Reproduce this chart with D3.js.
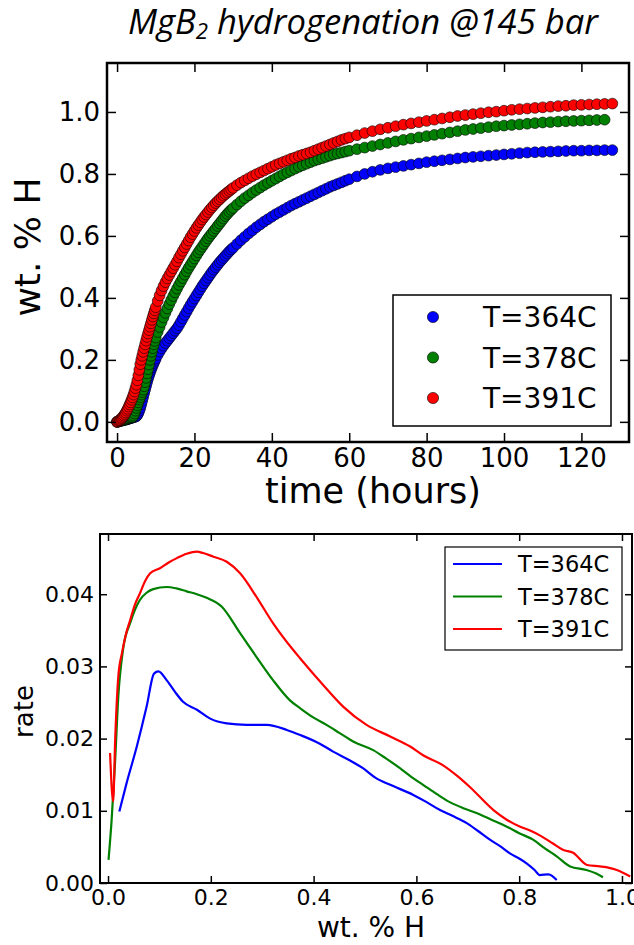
<!DOCTYPE html>
<html><head><meta charset="utf-8">
<script src="https://cdn.jsdelivr.net/npm/d3@7"></script>
<style>
html,body{margin:0;padding:0;background:#fff;}
svg{display:block;}
text{font-family:"DejaVu Sans",sans-serif;fill:#000;}
</style></head>
<body>
<svg id="chart" width="634" height="945"></svg>
<script>
// ---------- DATA ----------
const seriesNames = ["T=364C", "T=378C", "T=391C"];
const seriesColors = ["#0000ff", "#008000", "#ff0000"];

// top panel: sampling times (hours)
const hours = [0,0.25,0.5,0.75,1,1.25,1.5,1.75,2,2.25,2.5,2.75,3,3.25,3.5,3.75,4,4.25,4.5,4.75,
5,5.25,5.5,5.75,6,6.25,6.5,6.75,7,7.25,7.5,7.75,8,8.25,8.5,8.75,9,9.25,9.5,9.75,10,
10.5,11,11.5,12,12.5,13,13.5,14,14.5,15,15.5,16,16.5,17,17.5,18,18.5,19,19.5,20,
20.5,21,21.5,22,22.5,23,23.5,24,24.5,25,25.5,26,26.5,27,27.5,28,28.5,29,29.5,30,
31,32,33,34,35,36,37,38,39,40,41,42,43,44,45,46,47,48,49,50,
51,52,53,54,55,56,57,58,59,60,
62,64,66,68,70,72,74,76,78,80,82,84,86,88,90,92,94,96,98,100,
102,104,106,108,110,112,114,116,118,120,122,124,126,128];

// wt.% H at those times
const w364 = [0.000,0.001,0.002,0.003,0.004,0.004,0.005,0.006,0.007,0.007,
0.008,0.009,0.010,0.011,0.012,0.013,0.014,0.015,0.016,0.017,
0.018,0.022,0.028,0.036,0.045,0.056,0.068,0.080,0.092,0.104,
0.116,0.128,0.139,0.149,0.158,0.167,0.175,0.183,0.190,0.197,
0.204,
0.216,0.227,0.237,0.246,0.254,0.262,0.270,0.278,0.286,0.294,
0.302,0.312,0.323,0.334,0.345,0.356,0.367,0.378,0.388,0.398,
0.408,0.418,0.428,0.438,0.447,0.456,0.465,0.474,0.483,0.491,
0.499,0.507,0.515,0.522,0.529,0.536,0.543,0.550,0.556,0.562,
0.574,0.586,0.597,0.608,0.618,0.628,0.637,0.646,0.654,0.662,
0.670,0.677,0.684,0.691,0.698,0.704,0.710,0.716,0.722,0.728,
0.734,0.740,0.746,0.752,0.758,0.763,0.768,0.773,0.778,0.783,
0.792,0.800,0.807,0.813,0.818,0.822,0.826,0.830,0.834,0.838,
0.841,0.844,0.847,0.850,0.853,0.855,0.857,0.859,0.861,0.863,
0.865,0.867,0.869,0.870,0.871,0.872,0.873,0.874,0.875,0.875,
0.876,0.876,0.877,0.877];
const w378 = [0.000,0.001,0.002,0.003,0.004,0.005,0.006,0.007,0.008,0.009,
0.010,0.011,0.012,0.013,0.014,0.015,0.016,0.020,0.027,0.036,
0.045,0.054,0.063,0.072,0.080,0.088,0.096,0.104,0.115,0.128,
0.142,0.156,0.170,0.185,0.200,0.213,0.226,0.238,0.250,0.261,
0.272,
0.290,0.306,0.322,0.337,0.352,0.366,0.380,0.393,0.406,0.418,
0.430,0.442,0.453,0.464,0.475,0.486,0.497,0.507,0.517,0.527,
0.537,0.547,0.556,0.565,0.574,0.583,0.592,0.600,0.608,0.616,
0.624,0.632,0.640,0.648,0.656,0.664,0.671,0.678,0.684,0.690,
0.701,0.712,0.722,0.731,0.740,0.748,0.756,0.764,0.771,0.778,
0.785,0.792,0.799,0.805,0.811,0.817,0.823,0.828,0.833,0.838,
0.843,0.847,0.851,0.855,0.859,0.863,0.866,0.869,0.872,0.875,
0.880,0.885,0.890,0.895,0.900,0.905,0.910,0.914,0.918,0.922,
0.926,0.930,0.934,0.938,0.942,0.945,0.948,0.951,0.954,0.956,
0.958,0.960,0.962,0.964,0.966,0.967,0.969,0.970,0.971,0.972,
0.973,0.974,0.975];
const w391 = [0.000,0.002,0.004,0.006,0.009,0.012,0.016,0.020,0.025,0.030,
0.036,0.042,0.049,0.056,0.063,0.071,0.079,0.088,0.098,0.109,
0.120,0.134,0.150,0.168,0.186,0.200,0.213,0.226,0.238,0.250,
0.262,0.274,0.285,0.296,0.307,0.318,0.329,0.340,0.350,0.360,
0.370,
0.390,0.408,0.424,0.438,0.451,0.463,0.474,0.485,0.496,0.507,
0.518,0.530,0.541,0.552,0.563,0.574,0.585,0.596,0.606,0.616,
0.626,0.635,0.644,0.653,0.661,0.669,0.677,0.685,0.692,0.699,
0.706,0.712,0.718,0.724,0.730,0.735,0.740,0.745,0.750,0.755,
0.764,0.772,0.779,0.786,0.793,0.799,0.805,0.811,0.817,0.823,
0.829,0.834,0.839,0.844,0.849,0.853,0.858,0.862,0.866,0.870,
0.875,0.880,0.885,0.890,0.895,0.900,0.905,0.910,0.914,0.918,
0.925,0.932,0.938,0.944,0.949,0.954,0.959,0.963,0.967,0.971,
0.975,0.979,0.983,0.987,0.990,0.993,0.996,0.999,1.001,1.004,
1.007,1.009,1.011,1.013,1.015,1.017,1.019,1.020,1.022,1.023,
1.024,1.025,1.026,1.027];

// bottom panel: [wt.% H, rate]
const rate364 = [[0.022,0.0099],[0.036,0.0138],[0.056,0.0189],[0.075,0.0244],[0.0895,0.0290],[0.098,0.0293],
[0.114,0.0281],[0.130,0.0265],[0.146,0.0251],[0.173,0.0240],[0.198,0.0228],[0.231,0.0221],[0.270,0.0219],
[0.309,0.0219],[0.348,0.0212],[0.374,0.0205],[0.412,0.0193],[0.438,0.0182],[0.470,0.0170],[0.496,0.0159],
[0.520,0.0146],[0.549,0.0136],[0.594,0.0122],[0.620,0.0112],[0.646,0.0101],[0.670,0.0093],[0.698,0.0083],
[0.720,0.0072],[0.743,0.0060],[0.765,0.0050],[0.782,0.0041],[0.800,0.0034],[0.815,0.0027],[0.830,0.0018],
[0.840,0.0011],[0.857,0.0012],[0.873,0.0004]];
const rate378 = [[0.001,0.0032],[0.007,0.0087],[0.0136,0.0166],[0.020,0.0258],[0.030,0.0327],[0.043,0.0360],
[0.062,0.0392],[0.075,0.0402],[0.088,0.0407],[0.114,0.0410],[0.133,0.0408],[0.153,0.0404],[0.173,0.0400],
[0.192,0.0395],[0.221,0.0383],[0.257,0.0346],[0.289,0.0313],[0.321,0.0281],[0.354,0.0253],[0.374,0.0242],
[0.400,0.0229],[0.425,0.0219],[0.450,0.0208],[0.477,0.0196],[0.516,0.0184],[0.540,0.0173],[0.568,0.0159],
[0.590,0.0147],[0.613,0.0136],[0.640,0.0123],[0.665,0.0112],[0.690,0.0104],[0.717,0.0097],[0.745,0.0088],
[0.776,0.0078],[0.800,0.0069],[0.827,0.0060],[0.850,0.0048],[0.873,0.0037],[0.899,0.0023],[0.931,0.0018],
[0.950,0.0013],[0.963,0.0008]];
const rate391 = [[0.004,0.0180],[0.010,0.0113],[0.014,0.0200],[0.020,0.0286],[0.027,0.0318],[0.035,0.0345],
[0.043,0.0364],[0.052,0.0385],[0.062,0.0401],[0.072,0.0418],[0.082,0.0429],[0.101,0.0436],[0.118,0.0444],
[0.134,0.0450],[0.153,0.0456],[0.173,0.0459],[0.185,0.0457],[0.205,0.0452],[0.231,0.0445],[0.257,0.0429],
[0.290,0.0395],[0.321,0.0360],[0.360,0.0323],[0.374,0.0311],[0.419,0.0274],[0.458,0.0244],[0.503,0.0219],
[0.549,0.0203],[0.588,0.0189],[0.613,0.0177],[0.652,0.0163],[0.680,0.0148],[0.704,0.0133],[0.750,0.0101],
[0.775,0.0088],[0.802,0.0078],[0.820,0.0073],[0.840,0.0066],[0.865,0.0055],[0.885,0.0046],[0.905,0.0042],
[0.932,0.0025],[0.957,0.0023],[0.975,0.0021],[0.990,0.0018],[1.016,0.0009]];

const topXTicks = [0,20,40,60,80,100,120];
const topYTicks = [0.0,0.2,0.4,0.6,0.8,1.0];
const botXTicks = [0.0,0.2,0.4,0.6,0.8,1.0];
const botYTicks = [0.00,0.01,0.02,0.03,0.04];
const titleParts = ["MgB", "2", "hydrogenation @145 bar"];

// ---------- DRAW ----------
const svg = d3.select("#chart");

// Title (three text pieces, subscript 2)
{
  const fs = 28, subFs = 18, left = 128, base = 34;
  const tg = svg.append("g");
  const mk = (s, size) => tg.append("text").attr("y", base)
    .style("font-family","'Open Sans','Lato',sans-serif").style("font-style","italic")
    .style("font-size", size + "px").text(s);
  const a = mk(titleParts[0], fs), b = mk(titleParts[1], subFs), c = mk(titleParts[2], fs);
  const gap = 0.26; // word space, in em
  const total = a.node().getComputedTextLength() + b.node().getComputedTextLength()
              + c.node().getComputedTextLength() + gap*fs;
  const k = 470 / total;
  [a, c].forEach(t => t.style("font-size", (fs*k) + "px"));
  b.style("font-size", (subFs*k) + "px");
  let x = left;
  a.attr("x", x); x += a.node().getComputedTextLength();
  b.attr("x", x).attr("y", base + 5); x += b.node().getComputedTextLength() + gap*fs*k;
  c.attr("x", x);
}

// ---------- Top panel ----------
const tL=107, tR=629, tT=63, tB=442;
const xT = d3.scaleLinear().domain([-2.6, 132.3]).range([tL, tR]);
const yT = d3.scaleLinear().domain([-0.065, 1.158]).range([tB, tT]);

const gTop = svg.append("g");
const topSeries = [w364, w378, w391];
topSeries.forEach((arr, si) => {
  gTop.append("g").selectAll("circle").data(arr).join("circle")
    .attr("cx", (d,i) => xT(hours[i])).attr("cy", d => yT(d)).attr("r", 5.4)
    .attr("fill", seriesColors[si]).attr("stroke", "#000").attr("stroke-width", 0.8)
    .attr("stroke-opacity", 0.75);
});

function styleAxis(g, fs){
  g.select(".domain").remove();
  g.selectAll(".tick line").attr("stroke","#000").attr("stroke-width",1.5);
  g.selectAll(".tick text").style("font-family","'DejaVu Sans',sans-serif").style("font-size",fs+"px").attr("fill","#000");
}
const tickT = 9;
svg.append("g").attr("transform",`translate(0,${tB})`)
  .call(d3.axisBottom(xT).tickValues(topXTicks).tickSize(-tickT).tickPadding(7).tickFormat(d3.format("d")))
  .call(g=>styleAxis(g,26));
svg.append("g").attr("transform",`translate(0,${tT})`)
  .call(d3.axisTop(xT).tickValues(topXTicks).tickSize(-tickT).tickFormat(""))
  .call(g=>styleAxis(g,26));
svg.append("g").attr("transform",`translate(${tL},0)`)
  .call(d3.axisLeft(yT).tickValues(topYTicks).tickSize(-tickT).tickPadding(7).tickFormat(d3.format(".1f")))
  .call(g=>styleAxis(g,26));
svg.append("g").attr("transform",`translate(${tR},0)`)
  .call(d3.axisRight(yT).tickValues(topYTicks).tickSize(-tickT).tickFormat(""))
  .call(g=>styleAxis(g,26));
svg.append("rect").attr("x",tL).attr("y",tT).attr("width",tR-tL).attr("height",tB-tT)
  .attr("fill","none").attr("stroke","#000").attr("stroke-width",2.5);

svg.append("text").attr("x",(tL+tR)/2+5).attr("y",503).attr("text-anchor","middle")
  .style("font-size","35px").text("time (hours)");
svg.append("text").attr("transform",`translate(40,247) rotate(-90)`).attr("text-anchor","middle")
  .style("font-size","36px").text("wt. % H");

// top legend
const lg1 = svg.append("g");
lg1.append("rect").attr("x",393).attr("y",295).attr("width",218).attr("height",131)
  .attr("fill","#fff").attr("stroke","#000").attr("stroke-width",1.5);
seriesNames.forEach((n,i)=>{
  const yy = 317 + i*40.5;
  lg1.append("circle").attr("cx",433).attr("cy",yy).attr("r",5.6)
    .attr("fill",seriesColors[i]).attr("stroke","#000").attr("stroke-width",0.8).attr("stroke-opacity",0.75);
  lg1.append("text").attr("x",483).attr("y",yy).attr("dy","0.36em").style("font-size","28px").text(n);
});

// ---------- Bottom panel ----------
const bL=100, bR=632, bT=534, bB=883;
const xB = d3.scaleLinear().domain([-0.0156, 1.0195]).range([bL, bR]);
const yB = d3.scaleLinear().domain([0, 0.04834]).range([bB, bT]);

svg.append("clipPath").attr("id","clipB").append("rect")
  .attr("x",bL).attr("y",bT).attr("width",bR-bL).attr("height",bB-bT);
const line = d3.line().x(d=>xB(d[0])).y(d=>yB(d[1])).curve(d3.curveMonotoneX);
const gBot = svg.append("g").attr("clip-path","url(#clipB)");
[rate364, rate378, rate391].forEach((arr,si)=>{
  gBot.append("path").datum(arr).attr("d",line).attr("fill","none")
    .attr("stroke",seriesColors[si]).attr("stroke-width",2.2).attr("stroke-linejoin","round");
});

const tickB = 7;
svg.append("g").attr("transform",`translate(0,${bB})`)
  .call(d3.axisBottom(xB).tickValues(botXTicks).tickSize(-tickB).tickPadding(6).tickFormat(d3.format(".1f")))
  .call(g=>styleAxis(g,22));
svg.append("g").attr("transform",`translate(0,${bT})`)
  .call(d3.axisTop(xB).tickValues(botXTicks).tickSize(-tickB).tickFormat(""))
  .call(g=>styleAxis(g,22));
svg.append("g").attr("transform",`translate(${bL},0)`)
  .call(d3.axisLeft(yB).tickValues(botYTicks).tickSize(-tickB).tickPadding(6).tickFormat(d3.format(".2f")))
  .call(g=>styleAxis(g,22));
svg.append("g").attr("transform",`translate(${bR},0)`)
  .call(d3.axisRight(yB).tickValues(botYTicks).tickSize(-tickB).tickFormat(""))
  .call(g=>styleAxis(g,22));
svg.append("rect").attr("x",bL).attr("y",bT).attr("width",bR-bL).attr("height",bB-bT)
  .attr("fill","none").attr("stroke","#000").attr("stroke-width",2);

svg.append("text").attr("x",(bL+bR)/2+5).attr("y",937).attr("text-anchor","middle")
  .style("font-size","28px").text("wt. % H");
svg.append("text").attr("transform",`translate(33,${(bT+bB)/2+3}) rotate(-90)`).attr("text-anchor","middle")
  .style("font-size","26px").text("rate");

// bottom legend
const lg2 = svg.append("g");
lg2.append("rect").attr("x",445).attr("y",547).attr("width",177).attr("height",103)
  .attr("fill","#fff").attr("stroke","#000").attr("stroke-width",1.2);
seriesNames.forEach((n,i)=>{
  const yy = 564 + i*32.5;
  lg2.append("line").attr("x1",453).attr("x2",502).attr("y1",yy).attr("y2",yy)
    .attr("stroke",seriesColors[i]).attr("stroke-width",2.2);
  lg2.append("text").attr("x",518).attr("y",yy).attr("dy","0.36em").style("font-size","22.5px").text(n);
});
</script>
</body></html>
